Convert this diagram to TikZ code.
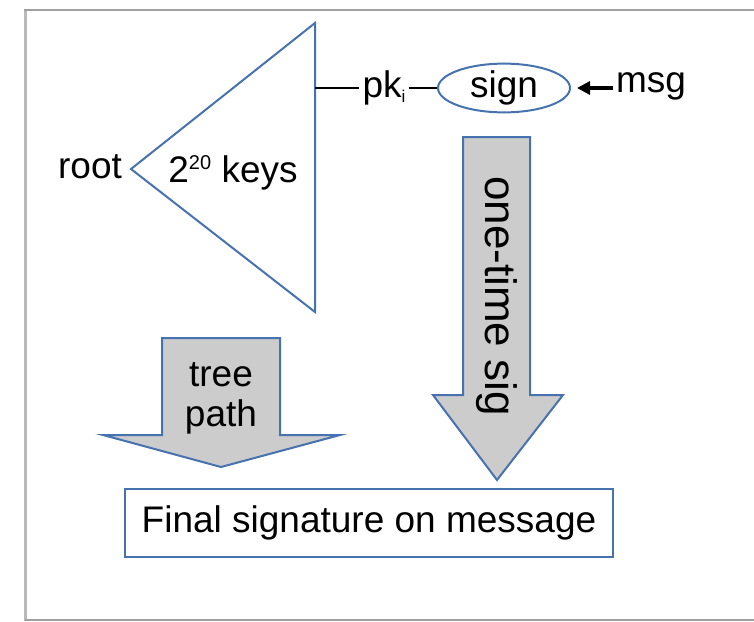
\documentclass[tikz,border=0pt]{standalone}
\usepackage{fontspec}
\setmainfont{Liberation Sans}
\usetikzlibrary{arrows.meta,shapes.geometric}
\definecolor{edgeblue}{RGB}{70,114,176}
\definecolor{arrowfill}{RGB}{204,204,204}
\definecolor{framegray}{RGB}{160,160,160}
\definecolor{framelight}{RGB}{185,185,185}
\begin{document}
\begin{tikzpicture}[x=1pt,y=-1pt,
  font=\fontsize{37}{42}\selectfont,
  blueline/.style={draw=edgeblue, line width=2pt, line join=miter},
  bigarrow/.style={blueline, fill=arrowfill},
  txt/.style={inner sep=0pt, anchor=center},
  link/.style={draw=black, line width=2.2pt}]
\useasboundingbox (0,0) rectangle (754,621);

% outer frame (open on the right)
\draw[framelight, line width=3pt] (25.5,10) -- (25.5,621);
\draw[framegray, line width=2.5pt] (24,10) -- (754,10);
\draw[framegray, line width=2pt] (25,619.5) -- (754,619.5);

% key tree drawn as a triangle
\coordinate (apex) at (131,169);
\coordinate (top) at (315,23);
\coordinate (bottom) at (315,312);
\coordinate (leaf) at (315,88);
\draw[blueline] (apex) -- (top) -- (bottom) -- cycle;
\node[txt] (root) at (90,167) {root};
\node[txt] (keys) at (233,173) {2\raisebox{13pt}{\fontsize{20}{22}\selectfont 20} keys};

% one-time key, signer and message
\node[txt, inner sep=3pt] (pk) at (384,88) {pk\raisebox{-5pt}{\fontsize{17}{19}\selectfont i}};
\node[ellipse, draw=edgeblue, line width=2pt, minimum width=132pt, minimum height=47pt, inner sep=0pt] (sign) at (504,88) {\raisebox{1pt}{sign}};
\node[txt] (msg) at (651,86) {msg};
\draw[link] (leaf) -- (pk.west);
\draw[link] (pk.east) -- (sign.west);
\draw[draw=black, line width=4.5pt, -{Triangle[length=13pt,width=13pt]}, shorten >=6pt] (msg.west) ++(-3,2) -- (sign.east);

% one-time signature arrow
\draw[bigarrow] (463,137) -- (530,137) -- (530,395) -- (563,395) -- (497,480)
  -- (433,395) -- (463,395) -- cycle;
\node[txt, rotate=-90, font=\fontsize{44}{48}\selectfont] (ots) at (497,296) {one-time sig};

% tree path arrow
\draw[bigarrow] (162,338) -- (280,338) -- (280,435) -- (340,435) -- (221,467)
  -- (103,435) -- (162,435) -- cycle;
\node[txt, align=center, font=\fontsize{37}{40}\selectfont] (path) at (221,398) {tree\\path};

% final result
\node[draw=edgeblue, line width=2.5pt, minimum width=488pt, minimum height=68pt, inner sep=0pt] (final) at (369,523) {Final signature on message};
\end{tikzpicture}
\end{document}
